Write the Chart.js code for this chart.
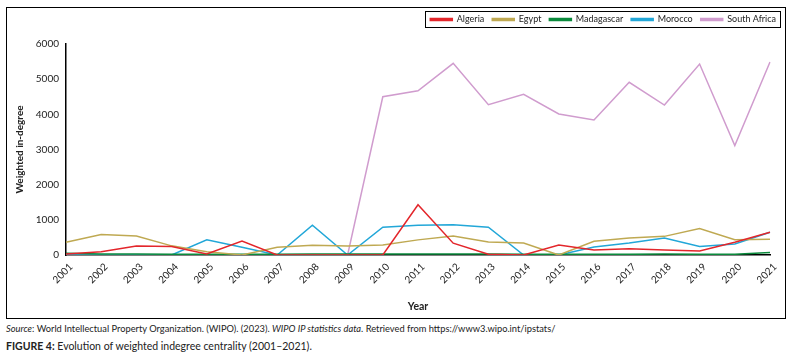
<!DOCTYPE html>
<html>
<head>
<meta charset="utf-8">
<script src="https://cdn.jsdelivr.net/npm/chart.js@4.4.1/dist/chart.umd.min.js"></script>
<style>
  body { margin: 0; background: #fff; font-family: Lato, "Open Sans", sans-serif; }
  #box { position: absolute; left: 6px; top: 7px; width: 780px; height: 312px; border: 1.5px solid #000; box-sizing: border-box; }
  #box canvas { display: block; }
  .cap { position: absolute; left: 6px; color: #222; white-space: nowrap; }
  #src { top: 323px; font-size: 9.3px; }
  #fig { top: 340px; font-size: 10.5px; }
</style>
</head>
<body>
<div id="box"><canvas id="indegreeChart" width="777" height="309"></canvas></div>
<div class="cap" id="src"><i>Source</i>: World Intellectual Property Organization. (WIPO). (2023). <i>WIPO IP statistics data</i>. Retrieved from https://www3.wipo.int/ipstats/</div>
<div class="cap" id="fig"><b>FIGURE 4:</b> Evolution of weighted indegree centrality (2001–2021).</div>
<script>
const years = ["2001","2002","2003","2004","2005","2006","2007","2008","2009","2010","2011",
  "2012","2013","2014","2015","2016","2017","2018","2019","2020","2021"];

const algeria = [30, 95, 255, 240, 30, 400, 0, 0, 0, 0, 1430, 335, 20, 0, 285, 140, 180, 140, 115, 360, 645];
const egypt = [360, 580, 540, 260, 95, 0, 220, 275, 255, 285, 430, 540, 370, 340, 0, 390, 485, 530, 750, 435, 445];
const madagascar = [50, 25, 30, 20, 20, 20, 20, 25, 25, 25, 25, 30, 25, 20, 20, 20, 20, 25, 20, 20, 70];
const morocco = [0, 0, 0, 0, 430, 220, 0, 845, 0, 790, 845, 860, 790, 0, 0, 230, 340, 485, 240, 315, 645];
const southAfrica = [0, 0, 0, 0, 0, 0, 0, 0, 0, 4500, 4670, 5450, 4275, 4570, 4010, 3840, 4910, 4265, 5430, 3110, 5490];

const yTicks = [0, 1000, 2000, 3000, 4000, 5000, 6000];

const series = [
  { label: "Algeria", data: algeria, color: "#e3262b" },
  { label: "Egypt", data: egypt, color: "#bfa952" },
  { label: "Madagascar", data: madagascar, color: "#0b8a3c" },
  { label: "Morocco", data: morocco, color: "#22a7d8" },
  { label: "South Africa", data: southAfrica, color: "#d09cce" }
];

// move the legend up into the corner and draw a frame round it
const legendBox = {
  id: "legendBox",
  afterLayout(chart) {
    const lg = chart.legend;
    const dx = 14, dy = -10;
    lg.left += dx; lg.right += dx;
    lg.top += dy; lg.bottom += dy;
  },
  afterDraw(chart) {
    const lg = chart.legend;
    if (!lg || !lg.legendHitBoxes.length) return;
    const boxes = lg.legendHitBoxes;
    const last = boxes[boxes.length - 1];
    const x1 = boxes[0].left - 5;
    const x2 = last.left + last.width + 4;
    const y1 = boxes[0].top - 4;
    const y2 = boxes[0].top + boxes[0].height + 3;
    const ctx = chart.ctx;
    ctx.save();
    ctx.strokeStyle = "#000";
    ctx.lineWidth = 1;
    ctx.strokeRect(Math.round(x1) + 0.5, Math.round(y1) + 0.5, Math.round(x2 - x1), Math.round(y2 - y1));
    ctx.restore();
  }
};

const font = "Lato, 'Open Sans', sans-serif";

new Chart(document.getElementById("indegreeChart").getContext("2d"), {
  type: "line",
  data: {
    labels: years,
    datasets: series.map(s => ({
      label: s.label,
      data: s.data,
      borderColor: s.color,
      backgroundColor: s.color,
      borderWidth: 1.5,
      pointRadius: 0,
      tension: 0
    }))
  },
  options: {
    responsive: false,
    animation: false,
    layout: { padding: { left: 3, right: 14, top: 9, bottom: 0 } },
    plugins: {
      legend: {
        position: "top",
        align: "end",
        labels: {
          boxWidth: 22,
          boxHeight: 2,
          padding: 8,
          color: "#222",
          font: { family: font, size: 9 }
        }
      },
      tooltip: { enabled: false }
    },
    scales: {
      x: {
        grid: { display: false, drawTicks: true, tickLength: 4, tickColor: "#000" },
        border: { color: "#000", width: 1.5 },
        ticks: {
          minRotation: 45,
          maxRotation: 45,
          labelOffset: 5,
          color: "#222",
          padding: 2,
          font: { family: font, size: 10 }
        },
        title: {
          display: true,
          text: "Year",
          color: "#222",
          font: { family: font, size: 10.5, weight: "bold" },
          padding: { top: 4 }
        },
        afterFit: s => { s.height = 62; }
      },
      y: {
        min: 0,
        max: 6000,
        afterBuildTicks: s => { s.ticks = yTicks.map(v => ({ value: v })); },
        grid: { display: false, drawTicks: true, tickLength: 4, tickColor: "#000" },
        border: { color: "#000", width: 1.5 },
        ticks: {
          color: "#222",
          padding: 3,
          font: { family: font, size: 10 },
          callback: v => String(v)
        },
        title: {
          display: true,
          text: "Weighted in-degree",
          color: "#222",
          font: { family: font, size: 10, weight: "bold" }
        },
        afterFit: s => { s.width = 56; }
      }
    }
  },
  plugins: [legendBox]
});
</script>
</body>
</html>
